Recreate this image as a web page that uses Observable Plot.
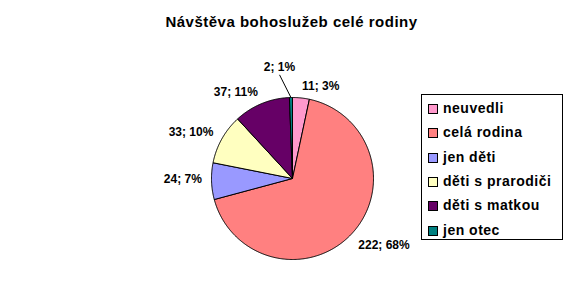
<!DOCTYPE html>
<html><head><meta charset="utf-8">
<script src="https://cdn.jsdelivr.net/npm/d3@7"></script>
<script src="https://cdn.jsdelivr.net/npm/@observablehq/plot@0.6"></script>
<style>
body{margin:0;background:#fff;}
#wrap{position:relative;width:583px;height:291px;overflow:hidden;font-family:"Liberation Sans",Arial,sans-serif;}
#title{height:40px;line-height:44px;text-align:center;font-weight:bold;font-size:15px;letter-spacing:0.5px;color:#000;}
#legend{position:absolute;left:421px;top:94px;width:140px;height:144px;border:1px solid #000;background:#fff;box-sizing:content-box;}
.li{position:absolute;left:6px;font-weight:bold;font-size:14px;letter-spacing:0.5px;height:16px;line-height:16px;white-space:nowrap;}
.sw{display:inline-block;width:8px;height:8px;border:1px solid #000;margin-right:5px;vertical-align:-1px;}
</style></head>
<body><div id="wrap"><div id="title">Návštěva bohoslužeb celé rodiny</div><div id="chart"></div><div id="legend"></div></div>
<script>
const categories = ["neuvedli", "celá rodina", "jen děti", "děti s prarodiči", "děti s matkou", "jen otec"];
const counts = [11, 222, 24, 33, 37, 2];
const percents = ["3%", "68%", "7%", "10%", "11%", "1%"];
const colors = ["#FF99CC", "#FF8080", "#9999FF", "#FFFFC0", "#660066", "#008080"];

const data = categories.map((c, i) => ({name: c, value: counts[i], label: counts[i] + "; " + percents[i]}));
const arcs = d3.pie().sort(null).value(d => d.value)(data);

// build slice polygons (angle clockwise from 12 o'clock)
const polys = [];
arcs.forEach(a => {
  const n = Math.max(2, Math.ceil((a.endAngle - a.startAngle) / 0.01));
  polys.push({name: a.data.name, x: 0, y: 0});
  for (let k = 0; k <= n; k++) {
    const t = a.startAngle + (a.endAngle - a.startAngle) * k / n;
    polys.push({name: a.data.name, x: Math.sin(t), y: Math.cos(t)});
  }
  polys.push({name: a.data.name, x: 0, y: 0});
});

const labels = arcs.map(a => {
  const m = (a.startAngle + a.endAngle) / 2;
  const small = (a.endAngle - a.startAngle) < 0.05;
  if (small) {
    return {label: a.data.label, x: -0.16, y: 1.38, anchor: "middle", lx: Math.sin(m), ly: Math.cos(m)};
  }
  const r = 1.12;
  const s = Math.sin(m);
  return {label: a.data.label, x: s * r, y: Math.cos(m) * r + (s > 0.5 ? -0.05 : 0.03), anchor: s >= 0 ? "start" : "end"};
});
const leaders = labels.filter(d => d.lx !== undefined);

const txt = {text: "label", fontSize: 12, fontWeight: "bold", fill: "black", letterSpacing: "0.3px"};
const chart = Plot.plot({
  width: 583, height: 251,
  margin: 0,
  x: {domain: [-1, 1], range: [211, 373], axis: null},
  y: {domain: [-1, 1], range: [219, 57], axis: null},
  color: {domain: categories, range: colors},
  style: {fontFamily: "'Liberation Sans', Arial, sans-serif", background: "white"},
  marks: [
    Plot.line(polys, {x: "x", y: "y", z: "name", fill: "name", stroke: "black", strokeWidth: 1, strokeLinejoin: "round"}),
    Plot.link(leaders, {x1: "lx", y1: "ly", x2: "x", y2: d => d.y - 0.1, stroke: "black", strokeWidth: 1}),
    Plot.text(labels.filter(d => d.anchor === "start"), {x: "x", y: "y", textAnchor: "start", ...txt}),
    Plot.text(labels.filter(d => d.anchor === "end"), {x: "x", y: "y", textAnchor: "end", ...txt}),
    Plot.text(labels.filter(d => d.anchor === "middle"), {x: "x", y: "y", textAnchor: "middle", ...txt})
  ]
});
document.getElementById("chart").appendChild(chart);

const lg = document.getElementById("legend");
categories.forEach((c, i) => {
  const d = document.createElement("div");
  d.className = "li";
  d.style.top = (5 + i * 24.3) + "px";
  d.innerHTML = `<span class="sw" style="background:${colors[i]}"></span>${c}`;
  lg.appendChild(d);
});
</script></body></html>
